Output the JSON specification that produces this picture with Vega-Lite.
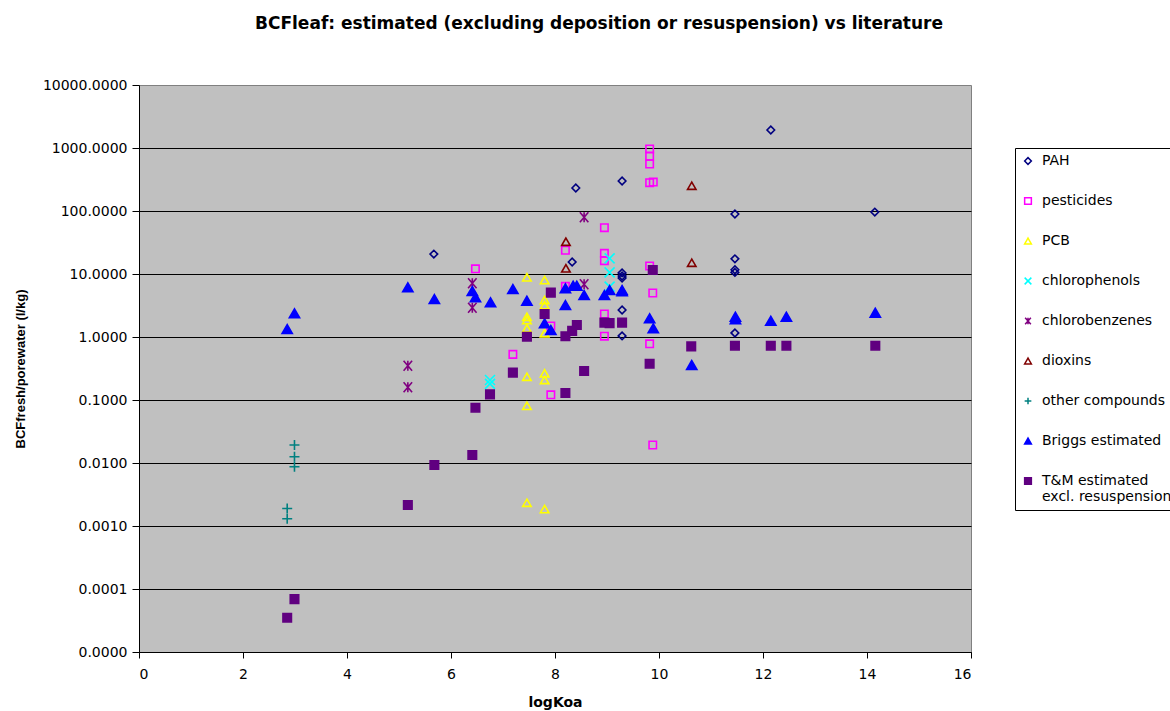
{
  "$schema": "https://vega.github.io/schema/vega-lite/v6.json",
  "width": 832,
  "height": 567,
  "autosize": {"type": "none"},
  "padding": {"left": 139, "top": 85, "right": 199, "bottom": 59},
  "background": "white",
  "title": {
    "text": "BCFleaf: estimated (excluding deposition or resuspension) vs literature",
    "font": "DejaVu Sans",
    "fontSize": 17,
    "fontWeight": "bold",
    "color": "black",
    "anchor": "middle",
    "frame": "group",
    "dx": 44,
    "offset": 45
  },
  "data": {
    "values": [
      {"series": "PAH", "logKoa": 5.67, "bcf": 20.7},
      {"series": "PAH", "logKoa": 8.40, "bcf": 232},
      {"series": "PAH", "logKoa": 9.29, "bcf": 299},
      {"series": "PAH", "logKoa": 8.33, "bcf": 15.5},
      {"series": "PAH", "logKoa": 9.29, "bcf": 10.4},
      {"series": "PAH", "logKoa": 9.29, "bcf": 9.3},
      {"series": "PAH", "logKoa": 9.29, "bcf": 8.65},
      {"series": "PAH", "logKoa": 9.29, "bcf": 2.68},
      {"series": "PAH", "logKoa": 9.29, "bcf": 1.04},
      {"series": "PAH", "logKoa": 12.15, "bcf": 1930},
      {"series": "PAH", "logKoa": 11.46, "bcf": 89.6},
      {"series": "PAH", "logKoa": 14.15, "bcf": 96},
      {"series": "PAH", "logKoa": 11.46, "bcf": 17.4},
      {"series": "PAH", "logKoa": 11.46, "bcf": 11.7},
      {"series": "PAH", "logKoa": 11.46, "bcf": 10.6},
      {"series": "PAH", "logKoa": 11.46, "bcf": 1.16},
      {"series": "pesticides", "logKoa": 9.82, "bcf": 964},
      {"series": "pesticides", "logKoa": 9.82, "bcf": 746},
      {"series": "pesticides", "logKoa": 9.82, "bcf": 557},
      {"series": "pesticides", "logKoa": 9.82, "bcf": 282},
      {"series": "pesticides", "logKoa": 9.89, "bcf": 288},
      {"series": "pesticides", "logKoa": 8.95, "bcf": 54.3},
      {"series": "pesticides", "logKoa": 6.47, "bcf": 12.1},
      {"series": "pesticides", "logKoa": 8.20, "bcf": 23.8},
      {"series": "pesticides", "logKoa": 8.95, "bcf": 21.3},
      {"series": "pesticides", "logKoa": 8.95, "bcf": 16.3},
      {"series": "pesticides", "logKoa": 9.82, "bcf": 13.4},
      {"series": "pesticides", "logKoa": 9.88, "bcf": 4.99},
      {"series": "pesticides", "logKoa": 8.95, "bcf": 2.32},
      {"series": "pesticides", "logKoa": 8.95, "bcf": 1.03},
      {"series": "pesticides", "logKoa": 9.82, "bcf": 0.78},
      {"series": "pesticides", "logKoa": 7.19, "bcf": 0.53},
      {"series": "pesticides", "logKoa": 7.92, "bcf": 0.121},
      {"series": "pesticides", "logKoa": 7.92, "bcf": 1.5},
      {"series": "pesticides", "logKoa": 8.20, "bcf": 6.38},
      {"series": "pesticides", "logKoa": 9.88, "bcf": 0.0193},
      {"series": "PCB", "logKoa": 7.46, "bcf": 8.87},
      {"series": "PCB", "logKoa": 7.80, "bcf": 8.03},
      {"series": "PCB", "logKoa": 7.80, "bcf": 3.87},
      {"series": "PCB", "logKoa": 7.80, "bcf": 3.22},
      {"series": "PCB", "logKoa": 7.46, "bcf": 2.10},
      {"series": "PCB", "logKoa": 7.46, "bcf": 1.86},
      {"series": "PCB", "logKoa": 7.46, "bcf": 1.37},
      {"series": "PCB", "logKoa": 7.80, "bcf": 1.15},
      {"series": "PCB", "logKoa": 7.46, "bcf": 0.234},
      {"series": "PCB", "logKoa": 7.80, "bcf": 0.265},
      {"series": "PCB", "logKoa": 7.80, "bcf": 0.208},
      {"series": "PCB", "logKoa": 7.46, "bcf": 0.081},
      {"series": "PCB", "logKoa": 7.46, "bcf": 0.00234},
      {"series": "PCB", "logKoa": 7.80, "bcf": 0.00186},
      {"series": "chlorophenols", "logKoa": 9.05, "bcf": 17.7},
      {"series": "chlorophenols", "logKoa": 9.05, "bcf": 10.6},
      {"series": "chlorophenols", "logKoa": 9.05, "bcf": 6.29},
      {"series": "chlorophenols", "logKoa": 6.75, "bcf": 0.208},
      {"series": "chlorophenols", "logKoa": 6.75, "bcf": 0.18},
      {"series": "chlorobenzenes", "logKoa": 8.56, "bcf": 79.4},
      {"series": "chlorobenzenes", "logKoa": 6.41, "bcf": 7.11},
      {"series": "chlorobenzenes", "logKoa": 6.41, "bcf": 2.92},
      {"series": "chlorobenzenes", "logKoa": 8.56, "bcf": 6.86},
      {"series": "chlorobenzenes", "logKoa": 5.17, "bcf": 0.35},
      {"series": "chlorobenzenes", "logKoa": 5.17, "bcf": 0.159},
      {"series": "dioxins", "logKoa": 8.21, "bcf": 32.6},
      {"series": "dioxins", "logKoa": 8.21, "bcf": 12.3},
      {"series": "dioxins", "logKoa": 10.63, "bcf": 252},
      {"series": "dioxins", "logKoa": 10.63, "bcf": 15.1},
      {"series": "other compounds", "logKoa": 2.99, "bcf": 0.0193},
      {"series": "other compounds", "logKoa": 2.99, "bcf": 0.0126},
      {"series": "other compounds", "logKoa": 2.99, "bcf": 0.0087},
      {"series": "other compounds", "logKoa": 2.85, "bcf": 0.0019},
      {"series": "other compounds", "logKoa": 2.85, "bcf": 0.0013},
      {"series": "Briggs estimated", "logKoa": 2.85, "bcf": 1.34},
      {"series": "Briggs estimated", "logKoa": 2.99, "bcf": 2.38},
      {"series": "Briggs estimated", "logKoa": 5.17, "bcf": 6.15},
      {"series": "Briggs estimated", "logKoa": 5.68, "bcf": 4.01},
      {"series": "Briggs estimated", "logKoa": 6.41, "bcf": 5.37},
      {"series": "Briggs estimated", "logKoa": 6.47, "bcf": 4.27},
      {"series": "Briggs estimated", "logKoa": 6.76, "bcf": 3.56},
      {"series": "Briggs estimated", "logKoa": 7.19, "bcf": 5.78},
      {"series": "Briggs estimated", "logKoa": 7.46, "bcf": 3.77},
      {"series": "Briggs estimated", "logKoa": 7.80, "bcf": 1.65},
      {"series": "Briggs estimated", "logKoa": 7.92, "bcf": 1.29},
      {"series": "Briggs estimated", "logKoa": 8.20, "bcf": 5.93},
      {"series": "Briggs estimated", "logKoa": 8.20, "bcf": 3.22},
      {"series": "Briggs estimated", "logKoa": 8.35, "bcf": 6.52},
      {"series": "Briggs estimated", "logKoa": 8.42, "bcf": 6.52},
      {"series": "Briggs estimated", "logKoa": 8.56, "bcf": 4.64},
      {"series": "Briggs estimated", "logKoa": 8.95, "bcf": 4.64},
      {"series": "Briggs estimated", "logKoa": 9.05, "bcf": 5.57},
      {"series": "Briggs estimated", "logKoa": 9.29, "bcf": 5.57},
      {"series": "Briggs estimated", "logKoa": 9.29, "bcf": 5.3},
      {"series": "Briggs estimated", "logKoa": 9.82, "bcf": 1.98},
      {"series": "Briggs estimated", "logKoa": 9.89, "bcf": 1.37},
      {"series": "Briggs estimated", "logKoa": 10.63, "bcf": 0.36},
      {"series": "Briggs estimated", "logKoa": 11.47, "bcf": 2.1},
      {"series": "Briggs estimated", "logKoa": 11.47, "bcf": 1.91},
      {"series": "Briggs estimated", "logKoa": 12.15, "bcf": 1.81},
      {"series": "Briggs estimated", "logKoa": 12.45, "bcf": 2.1},
      {"series": "Briggs estimated", "logKoa": 14.16, "bcf": 2.43},
      {"series": "T&M estimated excl. resuspension", "logKoa": 2.85, "bcf": 0.000035},
      {"series": "T&M estimated excl. resuspension", "logKoa": 2.99, "bcf": 0.000069},
      {"series": "T&M estimated excl. resuspension", "logKoa": 5.17, "bcf": 0.00215},
      {"series": "T&M estimated excl. resuspension", "logKoa": 5.68, "bcf": 0.0093},
      {"series": "T&M estimated excl. resuspension", "logKoa": 6.41, "bcf": 0.0134},
      {"series": "T&M estimated excl. resuspension", "logKoa": 6.47, "bcf": 0.0755},
      {"series": "T&M estimated excl. resuspension", "logKoa": 6.75, "bcf": 0.123},
      {"series": "T&M estimated excl. resuspension", "logKoa": 7.19, "bcf": 0.272},
      {"series": "T&M estimated excl. resuspension", "logKoa": 7.46, "bcf": 1.01},
      {"series": "T&M estimated excl. resuspension", "logKoa": 7.80, "bcf": 2.32},
      {"series": "T&M estimated excl. resuspension", "logKoa": 7.92, "bcf": 5.06},
      {"series": "T&M estimated excl. resuspension", "logKoa": 8.20, "bcf": 1.03},
      {"series": "T&M estimated excl. resuspension", "logKoa": 8.20, "bcf": 0.129},
      {"series": "T&M estimated excl. resuspension", "logKoa": 8.33, "bcf": 1.25},
      {"series": "T&M estimated excl. resuspension", "logKoa": 8.42, "bcf": 1.55},
      {"series": "T&M estimated excl. resuspension", "logKoa": 8.56, "bcf": 0.289},
      {"series": "T&M estimated excl. resuspension", "logKoa": 8.95, "bcf": 1.69},
      {"series": "T&M estimated excl. resuspension", "logKoa": 9.05, "bcf": 1.66},
      {"series": "T&M estimated excl. resuspension", "logKoa": 9.29, "bcf": 1.69},
      {"series": "T&M estimated excl. resuspension", "logKoa": 9.82, "bcf": 0.377},
      {"series": "T&M estimated excl. resuspension", "logKoa": 9.88, "bcf": 11.6},
      {"series": "T&M estimated excl. resuspension", "logKoa": 10.62, "bcf": 0.71},
      {"series": "T&M estimated excl. resuspension", "logKoa": 11.46, "bcf": 0.728},
      {"series": "T&M estimated excl. resuspension", "logKoa": 12.15, "bcf": 0.728},
      {"series": "T&M estimated excl. resuspension", "logKoa": 12.45, "bcf": 0.728},
      {"series": "T&M estimated excl. resuspension", "logKoa": 14.16, "bcf": 0.728}
    ]
  },
  "mark": {"type": "point", "strokeWidth": 1.6, "opacity": 1},
  "encoding": {
    "x": {
      "field": "logKoa",
      "type": "quantitative",
      "title": "logKoa",
      "scale": {"domain": [0, 16], "nice": false, "zero": false},
      "axis": {"values": [0, 2, 4, 6, 8, 10, 12, 14, 16], "grid": false, "format": "d"}
    },
    "y": {
      "field": "bcf",
      "type": "quantitative",
      "title": "BCFfresh/porewater (l/kg)",
      "scale": {"type": "log", "domain": [0.00001, 10000], "nice": false},
      "axis": {
        "values": [0.00001, 0.0001, 0.001, 0.01, 0.1, 1, 10, 100, 1000, 10000],
        "format": ".4f",
        "gridOpacity": {"condition": {"test": "datum.value >= 10000", "value": 0}, "value": 1}
      }
    },
    "shape": {
      "field": "series",
      "type": "nominal",
      "scale": {
        "domain": ["PAH", "pesticides", "PCB", "chlorophenols", "chlorobenzenes", "dioxins", "other compounds", "Briggs estimated", "T&M estimated excl. resuspension"],
        "range": ["diamond", "square", "triangle-up", "M-1,-1L1,1M-1,1L1,-1", "M-0.85,-1L0.85,1M-0.85,1L0.85,-1M0,-1L0,1", "triangle-up", "M-1,0L1,0M0,-1L0,1", "triangle-up", "square"]
      },
      "legend": {"labelExpr": "datum.label == 'T&M estimated excl. resuspension' ? ['T&M estimated', 'excl. resuspension'] : datum.label"}
    },
    "stroke": {
      "field": "series",
      "type": "nominal",
      "scale": {
        "domain": ["PAH", "pesticides", "PCB", "chlorophenols", "chlorobenzenes", "dioxins", "other compounds", "Briggs estimated", "T&M estimated excl. resuspension"],
        "range": ["#000080", "#FF00FF", "#FFFF00", "#00FFFF", "#800080", "#800000", "#008080", "#0000FF", "#600080"]
      },
      "legend": {"labelExpr": "datum.label == 'T&M estimated excl. resuspension' ? ['T&M estimated', 'excl. resuspension'] : datum.label"}
    },
    "fill": {
      "field": "series",
      "type": "nominal",
      "scale": {
        "domain": ["PAH", "pesticides", "PCB", "chlorophenols", "chlorobenzenes", "dioxins", "other compounds", "Briggs estimated", "T&M estimated excl. resuspension"],
        "range": ["transparent", "transparent", "transparent", "transparent", "transparent", "transparent", "transparent", "#0000FF", "#600080"]
      },
      "legend": {"labelExpr": "datum.label == 'T&M estimated excl. resuspension' ? ['T&M estimated', 'excl. resuspension'] : datum.label"}
    },
    "size": {
      "condition": [
        {"test": "datum.series === 'PAH'", "value": 58},
        {"test": "datum.series === 'pesticides'", "value": 55},
        {"test": "datum.series === 'PCB' || datum.series === 'dioxins'", "value": 72},
        {"test": "datum.series === 'Briggs estimated'", "value": 105},
        {"test": "datum.series === 'T&M estimated excl. resuspension'", "value": 72}
      ],
      "value": 100
    }
  },
  "config": {
    "font": "DejaVu Sans",
    "view": {"fill": "#C0C0C0", "stroke": "#808080", "strokeWidth": 1},
    "axis": {
      "domainColor": "black",
      "domainWidth": 1,
      "tickColor": "black",
      "labelColor": "black",
      "titleColor": "black",
      "labelFont": "DejaVu Sans",
      "labelFontSize": 14,
      "titleFontWeight": "bold"
    },
    "axisY": {
      "grid": true,
      "gridColor": "black",
      "gridWidth": 1,
      "tickSize": 7,
      "labelPadding": 5,
      "titleFont": "Liberation Sans",
      "titleFontSize": 13,
      "titlePadding": 15
    },
    "axisX": {
      "grid": false,
      "tickSize": 6,
      "labelPadding": 9,
      "titleFont": "DejaVu Sans",
      "titleFontSize": 14,
      "titlePadding": 14
    },
    "legend": {
      "title": null,
      "orient": "none",
      "legendX": 876,
      "legendY": 63,
      "padding": 6,
      "strokeColor": "black",
      "fillColor": "white",
      "labelFont": "DejaVu Sans",
      "labelFontSize": 14,
      "labelColor": "black",
      "symbolSize": 45,
      "symbolStrokeWidth": 1.5,
      "rowPadding": 26,
      "labelOffset": 7,
      "labelLimit": 300
    }
  }
}
